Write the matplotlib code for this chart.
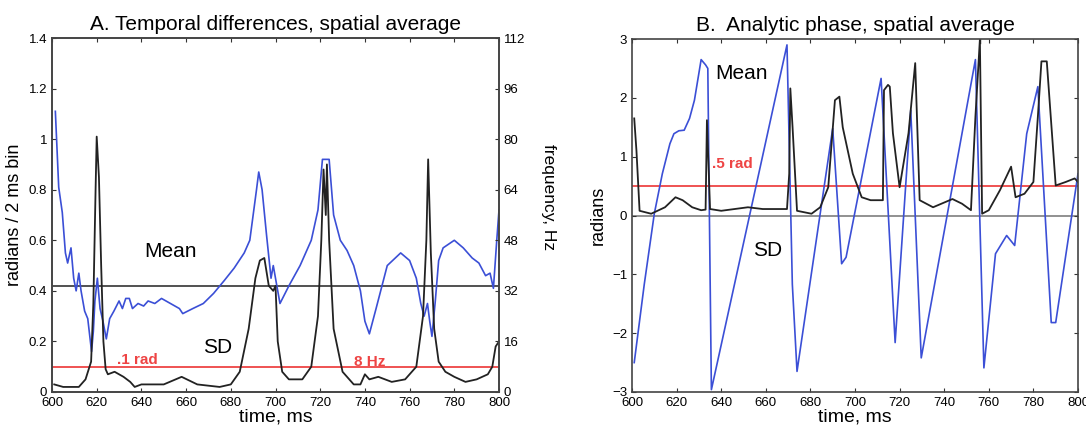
import numpy as np
import matplotlib
matplotlib.use("Agg")
from matplotlib import pyplot as plt

plt.rcParams['font.family'] = ['Liberation Sans', 'DejaVu Sans']

# ---- panel A: temporal differences (radians / 2 ms bin) ----
a_mean_t = [601.5, 603, 604.6, 606, 607, 608.5, 609.7, 610.8, 612, 613, 614.6, 616, 617.7,
            618.5, 619.2, 620.3, 621.5, 622.8, 624.3, 625.8, 627.7, 630, 631.5, 633, 634.6,
            636, 638.5, 641, 643, 646, 649, 651, 653, 657, 658.5, 663, 667.7, 672.3, 677,
            681.5, 686, 688.5, 691.5, 692.5, 694, 696, 698, 699, 700, 701, 702, 706, 711,
            716, 719, 721, 724, 726, 729, 732, 735, 738, 740, 742, 745, 750, 756, 760, 763,
            765, 766.5, 768, 769, 770, 771.5, 773, 775, 780, 784, 788, 791, 794, 796, 797.5,
            799, 800]
a_mean_v = [1.11, 0.81, 0.71, 0.55, 0.51, 0.57, 0.45, 0.40, 0.47, 0.40, 0.32, 0.29, 0.16,
            0.24, 0.36, 0.45, 0.33, 0.28, 0.21, 0.29, 0.32, 0.36, 0.33, 0.37, 0.37,
            0.33, 0.35, 0.34, 0.36, 0.35, 0.37, 0.36, 0.35, 0.33, 0.31, 0.33, 0.35, 0.39,
            0.44, 0.49, 0.55, 0.60, 0.80, 0.87, 0.80, 0.62, 0.45, 0.50, 0.45, 0.40, 0.35,
            0.42, 0.50, 0.60, 0.72, 0.92, 0.92, 0.70, 0.60, 0.56, 0.50, 0.40, 0.28, 0.23,
            0.33, 0.50, 0.55, 0.52, 0.45, 0.35, 0.30, 0.35, 0.28, 0.22, 0.36, 0.52, 0.57,
            0.60, 0.57, 0.53, 0.51, 0.46, 0.47, 0.41, 0.60, 0.72]

a_sd_t = [601, 605, 612, 615, 617.5, 618.5, 619.5, 620, 621, 622, 623, 624, 625, 628, 632,
          635, 637, 640, 650, 658, 665, 675, 680, 684, 688, 691, 693, 695, 697, 699, 700,
          701, 703, 706, 712, 716, 719, 720.5, 721.5, 722.5, 723, 724, 726, 730, 735, 738,
          740, 742, 746, 752, 758, 763, 766, 767.5, 768.3, 769.5, 771, 773, 776, 780, 785,
          790, 795, 797, 798.5, 800]
a_sd_v = [0.03, 0.02, 0.02, 0.05, 0.12, 0.35, 0.80, 1.01, 0.85, 0.50, 0.20, 0.09, 0.07, 0.08,
          0.06, 0.04, 0.02, 0.03, 0.03, 0.06, 0.03, 0.02, 0.03, 0.08, 0.25, 0.45, 0.52,
          0.53, 0.42, 0.40, 0.42, 0.20, 0.08, 0.05, 0.05, 0.10, 0.30, 0.60, 0.88, 0.70,
          0.90, 0.60, 0.25, 0.08, 0.03, 0.03, 0.07, 0.05, 0.06, 0.04, 0.05, 0.10, 0.30,
          0.60, 0.92, 0.55, 0.25, 0.12, 0.08, 0.06, 0.04, 0.05, 0.07, 0.10, 0.18, 0.20]

a_mean_level = 0.42
a_threshold = 0.1

# ---- panel B: analytic phase (radians) ----
b_mean_t = [601, 605.5, 610, 613.6, 617, 618.8, 621, 623.4, 625.8, 628, 631, 633, 634,
            634.7, 635.6, 669.5, 671.9, 674, 690, 694, 696, 711.7, 718, 725, 729.7, 754,
            757.8, 763, 768, 771.6, 777, 782, 788, 790, 800]
b_mean_v = [-2.5, -1.17, 0.03, 0.71, 1.22, 1.39, 1.44, 1.45, 1.65, 1.96, 2.65, 2.56, 2.5,
            0.03, -2.96, 2.9, -1.17, -2.65, 1.48, -0.82, -0.71, 2.33, -2.16, 1.79, -2.42,
            2.65, -2.59, -0.65, -0.34, -0.51, 1.39, 2.19, -1.82, -1.82, 0.71]

b_sd_t = [601, 602, 603.4, 608.6, 614.8, 619.5, 622.7, 627, 631, 633, 633.6, 635, 640, 646,
          652, 658.6, 669.5, 670.5, 671, 672, 674, 680.5, 684.4, 688, 691, 693, 694.5, 699,
          703, 707, 712.5, 713, 714.8, 715.6, 717, 720, 724, 727, 729, 730.5, 735, 743.7,
          748, 752, 754, 756, 757, 760, 765, 770, 772, 776, 780, 782, 783.6, 786, 790,
          794.5, 798.5, 800]
b_sd_v = [1.65, 1.1, 0.08, 0.03, 0.14, 0.31, 0.26, 0.14, 0.09, 0.1, 1.62, 0.11, 0.08, 0.11,
          0.14, 0.11, 0.11, 0.71, 2.16, 1.5, 0.08, 0.03, 0.14, 0.48, 1.96, 2.02, 1.5, 0.71,
          0.31, 0.26, 0.26, 2.13, 2.22, 2.19, 1.4, 0.48, 1.4, 2.59, 0.26, 0.23, 0.14, 0.28,
          0.2, 0.09, 1.68, 2.99, 0.03, 0.09, 0.43, 0.83, 0.31, 0.37, 0.57, 1.68, 2.62,
          2.62, 0.51, 0.57, 0.63, 0.57]

b_threshold = 0.5

blue = '#3b4fd6'
dark = '#222222'
red = '#ee4444'

fig = plt.figure(figsize=(10.86, 4.30), dpi=100)
W, H = 1086.0, 430.0
axA = fig.add_axes([52 / W, 1 - 392 / H, 447 / W, 354 / H])
axB = fig.add_axes([632 / W, 1 - 392 / H, 446 / W, 353 / H])

tick_kw = dict(direction='in', labelsize=9.5, length=3, width=0.8, color='#333333')

# panel A
axA.axhline(a_threshold, color=red, lw=1.3, zorder=1)
axA.axhline(a_mean_level, color=dark, lw=1.1, zorder=1)
axA.plot(a_mean_t, a_mean_v, color=blue, lw=1.2)
axA.plot(a_sd_t, a_sd_v, color=dark, lw=1.3)
axA.set_xlim(600, 800)
axA.set_ylim(0, 1.4)
axA.set_xticks(np.arange(600, 801, 20))
axA.set_yticks(np.arange(0, 1.41, 0.2))
axA.set_yticklabels(['0', '0.2', '0.4', '0.6', '0.8', '1', '1.2', '1.4'])
axA.tick_params(axis='x', top=True, **tick_kw)
axA.tick_params(axis='y', right=False, **tick_kw)
axA.set_xlabel('time, ms', fontsize=14, labelpad=0)
axA.set_ylabel('radians / 2 ms bin', fontsize=13, labelpad=4)
axA.set_title('A. Temporal differences, spatial average', fontsize=15, pad=6)
axA.text(653, 0.555, 'Mean', fontsize=15, ha='center', va='center')
axA.text(674, 0.175, 'SD', fontsize=15, ha='center', va='center')
axA.text(638, 0.127, '.1 rad', fontsize=11, color=red, fontweight='bold',
         ha='center', va='center')
axA.text(742, 0.12, '8 Hz', fontsize=11, color=red, fontweight='bold',
         ha='center', va='center')

axA2 = axA.twinx()
axA2.set_ylim(0, 112)
axA2.set_yticks(np.arange(0, 113, 16))
axA2.tick_params(axis='y', **tick_kw)
axA2.set_ylabel('frequency, Hz', fontsize=12.5, rotation=270, va='center')
axA2.yaxis.set_label_coords(1.11, 0.55)

# panel B
axB.axhline(b_threshold, color=red, lw=1.3, zorder=1)
axB.axhline(0, color='#888888', lw=1.3, zorder=1)
axB.plot(b_mean_t, b_mean_v, color=blue, lw=1.2)
axB.plot(b_sd_t, b_sd_v, color=dark, lw=1.3)
axB.axvline(756, ymin=0.99, color=dark, lw=1)
axB.set_xlim(600, 800)
axB.set_ylim(-3, 3)
axB.set_xticks(np.arange(600, 801, 20))
axB.set_yticks(np.arange(-3, 4, 1))
axB.tick_params(axis='x', top=True, **tick_kw)
axB.tick_params(axis='y', right=True, **tick_kw)
axB.set_xlabel('time, ms', fontsize=14, labelpad=0)
axB.set_ylabel('radians', fontsize=13, labelpad=4)
axB.set_title('B.  Analytic phase, spatial average', fontsize=15, pad=6)
axB.text(649, 2.42, 'Mean', fontsize=15, ha='center', va='center')
axB.text(661, -0.6, 'SD', fontsize=15, ha='center', va='center')
axB.text(645, 0.88, '.5 rad', fontsize=11, color=red, fontweight='bold',
         ha='center', va='center')

for ax in (axA, axA2, axB):
    for s in ax.spines.values():
        s.set_color('#444444')
        s.set_linewidth(1.2)

fig.savefig('out.png', dpi=100)
